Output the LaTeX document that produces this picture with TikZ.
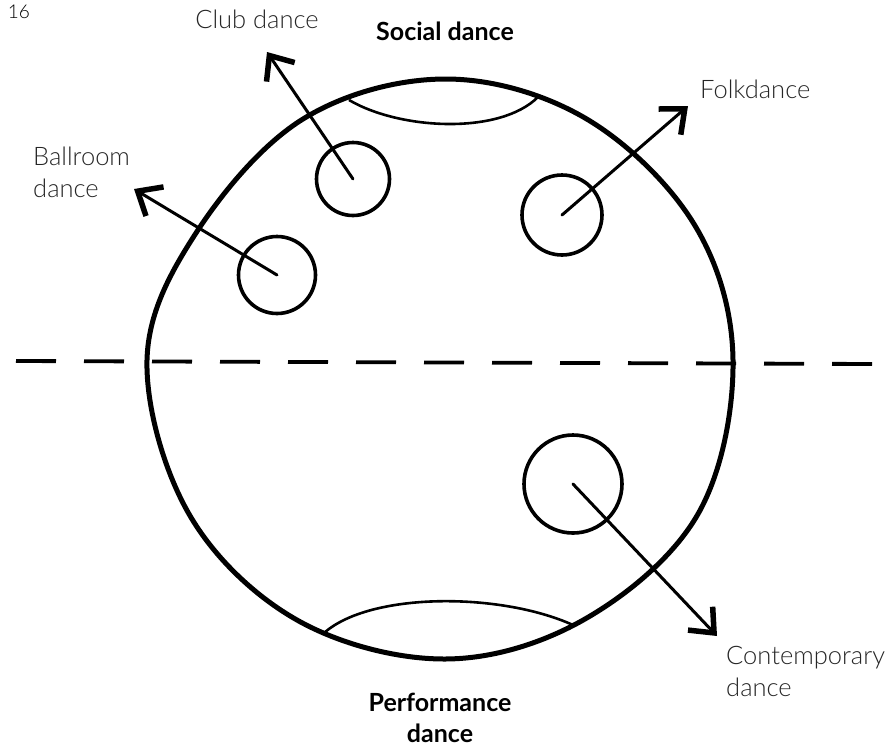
\documentclass[tikz,border=0pt]{standalone}
\usepackage{fontspec}
\setmainfont{Lato}
\newfontfamily\lightfont{Lato Light}
\usetikzlibrary{arrows.meta}
\begin{document}
\begin{tikzpicture}[x=1pt,y=-1pt,
 outline/.style={line width=5pt, line join=round},
 capline/.style={line width=2.6pt},
 blob/.style={draw, circle, line width=3.6pt, inner sep=0pt},
 pointer/.style={line width=3pt, line cap=round, -{Straight Barb[length=20pt,width=34pt,line width=5.5pt]}},
 dashline/.style={line width=3.8pt, dash pattern=on 40pt off 28pt},
 lbl/.style={font=\lightfont\fontsize{25.5}{32}\selectfont, text=black!85, inner sep=0pt},
 title/.style={font=\bfseries\fontsize{25}{31}\selectfont, inner sep=0pt, align=center},
]
\useasboundingbox (0,0) rectangle (886,748);

% big outline
\draw[outline] plot[smooth cycle, tension=0.6] coordinates {
 (445,79) (585,118) (694,224) (733,360) (698,514) (585,619)
 (445,659) (297,620) (189,514) (147,360) (196,233) (303,119)};

% caps
\coordinate (tcapL) at (349,100);
\coordinate (tcapR) at (538,97);
\draw[capline] (tcapL) .. controls (400,130) and (500,135) .. (tcapR);
\coordinate (bcapL) at (324,633);
\coordinate (bcapR) at (573,625);
\draw[capline] (bcapL) .. controls (370,592) and (500,592) .. (bcapR);

% dashed divider
\coordinate (dashL) at (16,361);
\coordinate (dashR) at (878,364);
\draw[dashline] (dashL) -- (dashR);

% small circles
\node[blob, minimum size=73pt] (club) at (353,179) {};
\node[blob, minimum size=77pt] (ballroom) at (277,275) {};
\node[blob, minimum size=80pt] (folk) at (562,215) {};
\node[blob, minimum size=98pt] (contemp) at (573,484) {};

% arrow ends
\coordinate (clubTip) at (267,52);
\coordinate (ballTip) at (134,189);
\coordinate (folkTip) at (688,106);
\coordinate (contTip) at (717,636);

\draw[pointer] (club.center) -- (clubTip);
\draw[pointer] (ballroom.center) -- (ballTip);
\draw[pointer] (folk.center) -- (folkTip);
\draw[pointer] (contemp.center) -- (contTip);

% labels
\node[font=\lightfont\fontsize{19}{22}\selectfont, inner sep=0pt] (page) at (19,12) {16};
\node[lbl] (clubL) at (257,19) {Club dance};
\node[title] (social) at (445,31) {Social dance};
\node[lbl, anchor=west] (folkL) at (700,89) {Folkdance};
\node[lbl, anchor=north west, align=left] (ballL) at (33,147) {Ballroom\\dance};
\node[lbl, anchor=north west, align=left] (contL) at (726,646) {Contemporary\\dance};
\node[title] (perf) at (440,718) {Performance\\dance};
\end{tikzpicture}
\end{document}
